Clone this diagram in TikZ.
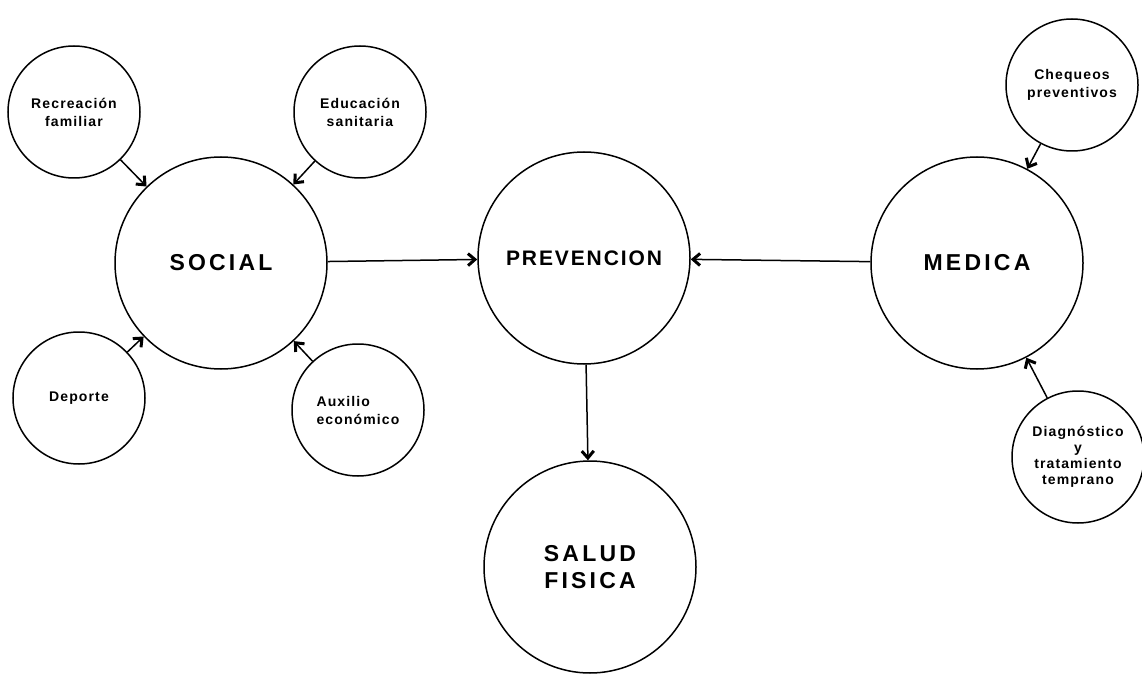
\documentclass[tikz,border=0pt]{standalone}
\usepackage{fontspec}
\usetikzlibrary{arrows.meta}
\newfontfamily\lblfont[LetterSpace=8]{Liberation Sans}
\newfontfamily\bigfont[LetterSpace=14]{Liberation Sans}
\newfontfamily\midfont[LetterSpace=9]{Liberation Sans}

\begin{document}
\begin{tikzpicture}[x=1pt,y=-1pt,
    big/.style={circle,draw,line width=1.5pt,minimum size=212pt,inner sep=0pt,align=center,font=\bigfont\bfseries\fontsize{23}{27}\selectfont},
    small/.style={circle,draw,line width=1.5pt,minimum size=132pt,inner sep=0pt,align=center,font=\lblfont\bfseries\fontsize{14}{18}\selectfont},
    flow/.style={-{Straight Barb[length=7pt,width=12pt,line width=3pt]},line width=1.5pt}]
    \useasboundingbox (0,0) rectangle (1142,700);
    %main circles
    \node [big] (social) at (221,263) {SOCIAL};
    \node [big,font=\midfont\bfseries\fontsize{21}{26}\selectfont] (prev) at (584,258) {PREVENCION};
    \node [big] (medica) at (977,263) {MEDICA};
    \node [big] (salud) at (590,567) {SALUD\\FISICA};
    %social side
    \node [small] (recre) at (74,112) {Recreación\\familiar};
    \node [small] (educ) at (360,112) {Educación\\sanitaria};
    \node [small] (deporte) at (79,398) {Deporte};
    \node [small,align=left] (auxilio) at (358,410) {Auxilio\\económico};
    %medica side
    \node [small] (cheq) at (1072,85) {Chequeos\\preventivos};
    \node [small,font=\lblfont\bfseries\fontsize{14}{16}\selectfont] (diag) at (1078,457) {Diagnóstico\\y\\tratamiento\\temprano};
    %arrows
    \draw [flow] (recre) -- (social);
    \draw [flow] (educ) -- (social);
    \draw [flow] (deporte) -- (social);
    \draw [flow] (auxilio) -- (social);
    \draw [flow] (cheq) -- (medica);
    \draw [flow] (diag) -- (medica);
    \draw [flow] (social) -- (prev);
    \draw [flow] (medica) -- (prev);
    \draw [flow] (prev) -- (salud);
\end{tikzpicture}
\end{document}
